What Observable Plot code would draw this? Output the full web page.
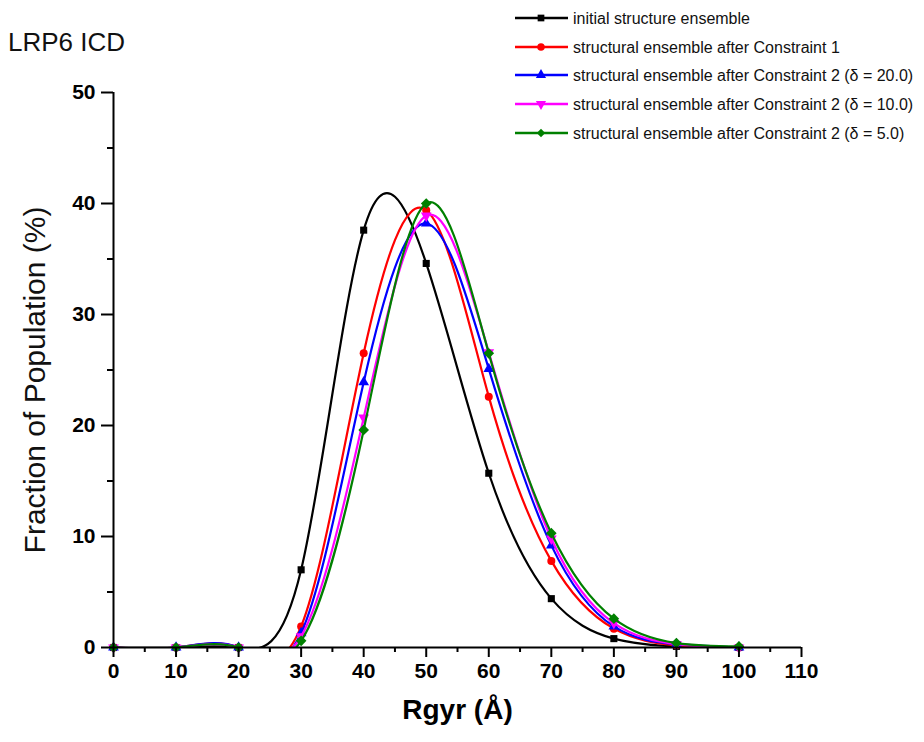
<!DOCTYPE html>
<html>
<head>
<meta charset="utf-8">
<script src="https://cdn.jsdelivr.net/npm/d3@7"></script>
<script src="https://cdn.jsdelivr.net/npm/@observablehq/plot@0.6"></script>
<style>
  html, body { margin: 0; padding: 0; background: #fff; }
  #wrap { position: relative; width: 924px; height: 742px; font-family: "Liberation Sans", Arial, sans-serif; }
  #title { position: absolute; left: 8px; top: 27px; font-size: 26px; color: #111; }
  #legend { position: absolute; left: 0; top: 0; pointer-events: none; }
</style>
</head>
<body>
<div id="wrap">
  <div id="chart"></div>
  <div id="title">LRP6 ICD</div>
  <svg id="legend" width="924" height="150"></svg>
</div>
<script>
// ---- data ----
const rgyr = [0, 10, 20, 30, 40, 50, 60, 70, 80, 90, 100];
const initialEnsemble = [0, 0, 0, 7.0, 37.6, 34.6, 15.7, 4.4, 0.8, 0.1, 0];
const afterConstraint1 = [0, 0, 0, 1.9, 26.5, 39.4, 22.6, 7.8, 1.7, 0.2, 0];
const afterC2delta20 = [0, 0, 0, 1.3, 23.9, 38.2, 25.1, 9.2, 1.9, 0.3, 0];
const afterC2delta10 = [0, 0, 0, 1.0, 20.7, 38.9, 26.6, 9.8, 2.2, 0.3, 0];
const afterC2delta5 = [0, 0, 0, 0.6, 19.6, 40.0, 26.5, 10.3, 2.6, 0.4, 0.1];

const seriesNames = [
  "initial structure ensemble",
  "structural ensemble after Constraint 1",
  "structural ensemble after Constraint 2 (\u03B4 = 20.0)",
  "structural ensemble after Constraint 2 (\u03B4 = 10.0)",
  "structural ensemble after Constraint 2 (\u03B4 = 5.0)"
];
const seriesValues = [initialEnsemble, afterConstraint1, afterC2delta20, afterC2delta10, afterC2delta5];
const seriesColors = ["#000000", "#ff0000", "#0000ff", "#ff00ff", "#008000"];
const seriesSymbols = ["square", "circle", "triangle", "triangle", "diamond2"];
const seriesRotate = [0, 0, 0, 180, 0];
const seriesMarkerR = [4, 4, 4, 4, 4.8];

const xTicks = [0, 10, 20, 30, 40, 50, 60, 70, 80, 90, 100, 110];
const xMinorTicks = [5, 15, 25, 35, 45, 55, 65, 75, 85, 95, 105];
const yTicks = [0, 10, 20, 30, 40, 50];
const yMinorTicks = [5, 15, 25, 35, 45];
const xTitle = "Rgyr (\u00C5)";
const yTitle = "Fraction of Population (%)";

// ---- marks ----
const marks = [];
seriesNames.forEach((name, i) => {
  const rows = rgyr.map((x, j) => ({x, y: seriesValues[i][j], name}));
  marks.push(Plot.line(rows, {x: "x", y: "y", stroke: seriesColors[i], strokeWidth: 2.2, curve: "natural", clip: true}));
  marks.push(Plot.dot(rows, {x: "x", y: "y", symbol: seriesSymbols[i], fill: seriesColors[i], stroke: "none", r: seriesMarkerR[i], rotate: seriesRotate[i]}));
});

marks.push(Plot.ruleY([0], {stroke: "#000", strokeWidth: 2}));
marks.push(Plot.ruleX([0], {stroke: "#000", strokeWidth: 2}));
marks.push(Plot.axisX(xTicks, {tickSize: 10, tickPadding: 6, fontSize: 21, fontWeight: "bold", strokeWidth: 2, label: null, tickFormat: d => String(d)}));
marks.push(Plot.axisX(xMinorTicks, {tickSize: 5, strokeWidth: 2, label: null, tickFormat: () => ""}));
marks.push(Plot.axisY(yTicks, {tickSize: 12, tickPadding: 6, fontSize: 21, fontWeight: "bold", strokeWidth: 2, label: null, tickFormat: d => String(d)}));
marks.push(Plot.axisY(yMinorTicks, {tickSize: 6, strokeWidth: 2, label: null, tickFormat: () => ""}));
marks.push(Plot.text([xTitle], {text: d => d, frameAnchor: "bottom", dy: 71, fontSize: 28, fontWeight: "bold", fill: "#000"}));
marks.push(Plot.text([yTitle], {text: d => d, frameAnchor: "left", textAnchor: "middle", dx: -78, dy: 10, rotate: -90, fontSize: 30, fill: "#111"}));

const chart = Plot.plot({
  width: 924,
  height: 742,
  marginLeft: 113,
  marginRight: 123,
  marginTop: 92,
  marginBottom: 95,
  x: {domain: [0, 110]},
  y: {domain: [0, 50]},
  style: {fontFamily: "'Liberation Sans', Arial, sans-serif", background: "#fff", color: "#000"},
  marks
});
document.getElementById("chart").appendChild(chart);

// ---- legend ----
const legend = d3.select("#legend");
const symMap = {square: d3.symbolSquare, circle: d3.symbolCircle, triangle: d3.symbolTriangle, diamond2: d3.symbolDiamond2};
const rowY = [18, 47, 75, 104, 133];
seriesNames.forEach((name, i) => {
  const g = legend.append("g").attr("transform", `translate(0,${rowY[i]})`);
  g.append("line").attr("x1", 515).attr("x2", 568).attr("y1", 0).attr("y2", 0)
    .attr("stroke", seriesColors[i]).attr("stroke-width", 2.5);
  g.append("path").attr("d", d3.symbol(symMap[seriesSymbols[i]], 45)())
    .attr("transform", `translate(541,0) rotate(${seriesRotate[i]})`)
    .attr("fill", seriesColors[i]);
  g.append("text").attr("x", 573).attr("y", 0).attr("dy", "0.35em")
    .attr("font-family", "'Liberation Sans', Arial, sans-serif")
    .attr("font-size", 16).attr("fill", "#111").text(name);
});
</script>
</body>
</html>
